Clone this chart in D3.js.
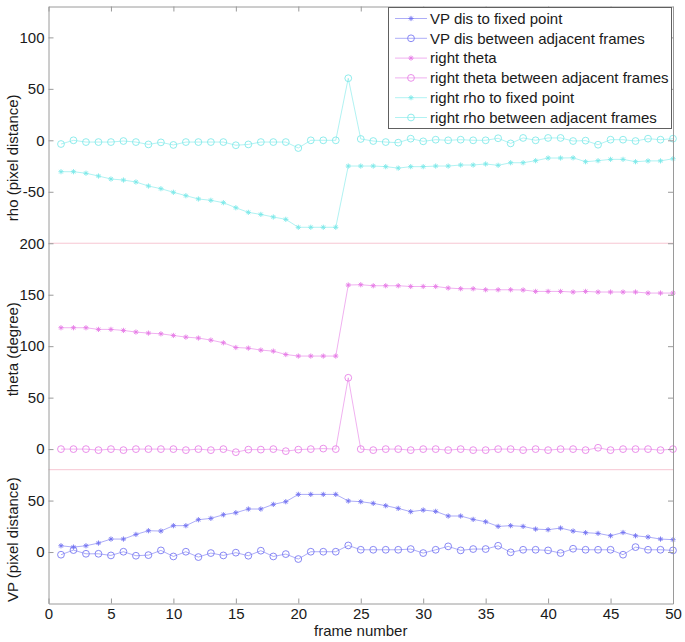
<!DOCTYPE html>
<html>
<head>
<meta charset="utf-8">
<script src="https://cdn.jsdelivr.net/npm/d3@7"></script>
<style>
  body { margin: 0; background: #fff; }
  text { font-family: "Liberation Sans", Arial, sans-serif; }
</style>
</head>
<body>
<div class="canva"></div>
<script>
const width = 685
const height = 642

// frame numbers 1..50
const frames = [1,2,3,4,5,6,7,8,9,10,11,12,13,14,15,16,17,18,19,20,21,22,23,24,25,
  26,27,28,29,30,31,32,33,34,35,36,37,38,39,40,41,42,43,44,45,46,47,48,49,50]

const vpFixed = [6.1,4.8,6.1,8.7,12.6,12.6,17.1,20.7,20.4,25.6,25.6,31.4,32.7,36.2,38.2,41.8,41.8,46.3,48.9,56,
  56,56,56,49.6,48.9,47.3,45,42.4,39.2,40.8,39.5,35,35,31.7,29.4,24.9,25.6,24.9,22.3,21.7,
  23.3,20.4,18.8,18.1,15.8,19,15.8,14.6,12.6,12]
const vpAdjacent = [-2.6,1.9,-1.7,-1.7,-3.3,0.3,-3.6,-3,1.6,-4.3,0.3,-4.9,-1,-3.3,-0.6,-3.6,1.3,-4.3,-2,-6.8,
  0.3,0.3,0.3,6.4,2.2,2.2,2.2,2.2,2.9,-1,2.2,5.5,1.6,2.9,2.9,6.1,-0.3,2.2,2.2,1.6,
  -1,3.2,2.2,2.2,2.2,-2.6,4.8,2.2,2.2,1.6]
const thetaRight = [117.9,117.9,117.9,116.3,116.3,115.3,113.7,112.7,112,110.4,108.8,107.9,105.9,103.3,98.7,98.1,96.2,95.2,91.9,90.4,
  90.4,90.4,90.4,159.4,159.7,158.7,158.7,158.7,158,158,158,156.5,155.8,155.8,154.8,154.8,154.8,154.6,153.2,153.2,
  153.2,152.6,153.2,152.6,152.6,152.6,152.6,151.6,151.6,151.6]
const thetaAdjacent = [0,0,0,-1,0,-1,0,0,0,0,-1,0,-1,0,-3,-0.5,-0.5,0,-2,-0.5,
  0,0.5,0,69.3,0,-1,0,0,-1,0,0,-1,0,-1,-1,0,0,-1,0,-1,
  0,0,-1,1.3,-1,0,0,0,-1,0]
const rhoFixed = [-30.5,-30.5,-32,-34.7,-37.6,-38.6,-40.5,-44.4,-47,-50.5,-53.8,-57,-58.3,-60.6,-65.5,-70,-72,-74.5,-76.8,-84.5,
  -84.5,-84.5,-84.5,-25,-25,-25,-25.6,-27,-25.6,-25.6,-25,-25,-24,-24,-23,-24.3,-21.8,-21.8,-19.8,-17.2,
  -17.2,-17,-20.8,-19.8,-18.5,-18.5,-20.8,-20,-20,-17.9]
const rhoAdjacent = [-3.6,0,-1.7,-1.7,-1.7,-0.7,-1.7,-4,-2,-4.5,-1.7,-1.7,-1.7,-1.7,-4.8,-4,-1.7,-1.7,-1.7,-7.5,
  0,0,0,60.3,1.3,-0.7,-1.7,-2.3,1.6,-1,0.6,0,0.6,0,0,2,-3,2.3,0,2.3,
  2.3,-0.7,-0.3,-4.3,0.6,0.6,-0.7,1.6,0.6,1.6]

// each panel is shifted up on one shared axis
const panelOffsets = { vp: 0, theta: 100, rho: 400 }
const separators = [80, 300]
const yTicks = [0, 50, 100, 150, 200, 250, 300, 350, 400, 450, 500]
const yTickLabels = ["0", "50", "0", "50", "100", "150", "200", "-50", "0", "50", "100"]
const xTicks = [0, 5, 10, 15, 20, 25, 30, 35, 40, 45, 50]
const legendLabels = ["VP dis to fixed point", "VP dis between adjacent frames", "right theta",
  "right theta between adjacent frames", "right rho to fixed point", "right rho between adjacent frames"]

const blue = "#7474f2"
const magenta = "#e67ce6"
const cyan = "#7ce9e9"

const series = [
  { values: vpFixed, offset: panelOffsets.vp, color: blue, marker: "star" },
  { values: vpAdjacent, offset: panelOffsets.vp, color: blue, marker: "circle" },
  { values: thetaRight, offset: panelOffsets.theta, color: magenta, marker: "star" },
  { values: thetaAdjacent, offset: panelOffsets.theta, color: magenta, marker: "circle" },
  { values: rhoFixed, offset: panelOffsets.rho, color: cyan, marker: "star" },
  { values: rhoAdjacent, offset: panelOffsets.rho, color: cyan, marker: "circle" }
]

const x = d3.scaleLinear().domain([0, 50]).range([48.5, 673])
const y = d3.scaleLinear().domain([-50, 530]).range([603.5, 6.5])

const svg = d3.select(".canva").append("svg").attr("width", width).attr("height", height)

// separators between panels
svg.append("g").selectAll("line").data(separators).enter().append("line")
  .attr("x1", x(0)).attr("x2", x(50))
  .attr("y1", d => y(d)).attr("y2", d => y(d))
  .attr("stroke", "#f7c6d2").attr("stroke-width", 1)

function starPath(cx, cy, r) {
  const d = r * 0.7
  return `M${cx - r},${cy}L${cx + r},${cy}M${cx},${cy - r}L${cx},${cy + r}` +
    `M${cx - d},${cy - d}L${cx + d},${cy + d}M${cx - d},${cy + d}L${cx + d},${cy - d}`
}

function drawMarker(g, marker, cx, cy, color) {
  if (marker === "star") {
    g.append("path").attr("d", starPath(cx, cy, 2.6))
      .attr("stroke", color).attr("stroke-width", 0.9).attr("fill", "none")
  } else {
    g.append("circle").attr("cx", cx).attr("cy", cy).attr("r", 3.4)
      .attr("stroke", color).attr("stroke-width", 0.85).attr("fill", "none")
  }
}

const line = d3.line()
series.forEach(s => {
  const pts = s.values.map((v, i) => [x(frames[i]), y(v + s.offset)])
  const g = svg.append("g")
  g.append("path").attr("d", line(pts))
    .attr("fill", "none").attr("stroke", s.color).attr("stroke-width", 0.7)
    .attr("stroke-opacity", 0.85)
  pts.forEach(p => drawMarker(g, s.marker, p[0], p[1], s.color))
})

// axes box with inward ticks
const axisColor = "#9a9a9a"
const axisL = svg.append("g").attr("transform", `translate(${x(0)},0)`)
  .call(d3.axisLeft(y).tickValues(yTicks).tickFormat((d, i) => yTickLabels[i])
    .tickSizeInner(-5).tickSizeOuter(0).tickPadding(4))
const axisR = svg.append("g").attr("transform", `translate(${x(50)},0)`)
  .call(d3.axisRight(y).tickValues(yTicks).tickFormat("").tickSizeInner(-5).tickSizeOuter(0))
const axisB = svg.append("g").attr("transform", `translate(0,${y(-50)})`)
  .call(d3.axisBottom(x).tickValues(xTicks).tickSizeInner(-5).tickSizeOuter(0).tickPadding(5))
const axisT = svg.append("g").attr("transform", `translate(0,${y(530)})`)
  .call(d3.axisTop(x).tickValues(xTicks).tickFormat("").tickSizeInner(-5).tickSizeOuter(0))

;[axisL, axisR, axisB, axisT].forEach(a => {
  a.select(".domain").attr("stroke", axisColor)
  a.selectAll(".tick line").attr("stroke", axisColor)
  a.selectAll("text").attr("font-size", 15).attr("fill", "#1a1a1a")
    .attr("font-family", '"Liberation Sans", Arial, sans-serif')
})

// axis titles
svg.append("text").attr("x", x(25)).attr("y", 636).attr("text-anchor", "middle")
  .attr("font-size", 15).attr("fill", "#1a1a1a").text("frame number")

const yTitles = [
  { text: "rho (pixel distance)", u: 383 },
  { text: "theta (degree)", u: 197 },
  { text: "VP (pixel distance)", u: 12 }
]
svg.append("g").selectAll("text").data(yTitles).enter().append("text")
  .attr("transform", d => `translate(18,${y(d.u)}) rotate(-90)`)
  .attr("text-anchor", "middle").attr("font-size", 15).attr("fill", "#1a1a1a")
  .text(d => d.text)

// legend
const legend = svg.append("g")
legend.append("rect").attr("x", 388.5).attr("y", 7.5).attr("width", 283).attr("height", 121)
  .attr("fill", "#fff").attr("stroke", "#606060").attr("stroke-width", 1)
legendLabels.forEach((lab, i) => {
  const ly = 18.5 + i * 19.8
  const s = series[i]
  legend.append("line").attr("x1", 395).attr("x2", 427).attr("y1", ly).attr("y2", ly)
    .attr("stroke", s.color).attr("stroke-width", 0.7).attr("stroke-opacity", 0.85)
  drawMarker(legend, s.marker, 411, ly, s.color)
  legend.append("text").attr("x", 430).attr("y", ly).attr("dy", "0.35em")
    .attr("font-size", 15).attr("fill", "#1a1a1a").text(lab)
})
</script>
</body>
</html>
